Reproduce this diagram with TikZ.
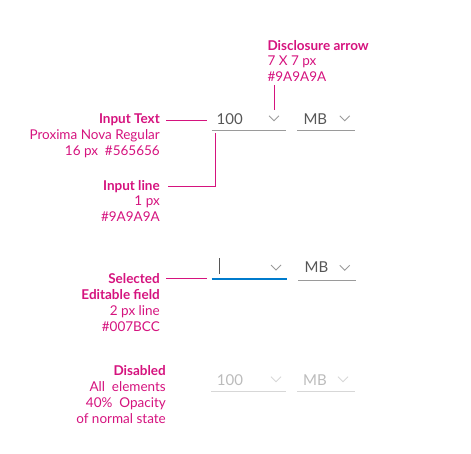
\documentclass[tikz,border=0pt]{standalone}
\usepackage{fontspec}
\setmainfont{Lato}
\usepackage{xcolor}
\usetikzlibrary{positioning}

\definecolor{notepink}{HTML}{D5137E}
\definecolor{valgrey}{HTML}{565656}
\definecolor{linegrey}{HTML}{9A9A9A}
\definecolor{selblue}{HTML}{007BCC}

\tikzset{
  note/.style={text=notepink, font=\fontsize{13.5}{15.8}\selectfont, inner sep=0pt},
  value/.style={text=valgrey, font=\fontsize{15}{18}\selectfont, inner sep=0pt, anchor=base west},
  callout/.style={notepink, line width=1pt},
  underline/.style={linegrey, line width=1pt},
  chevron/.style={linegrey, line width=0.9pt},
}
\newcommand{\chev}[1]{\draw[chevron] ([xshift=-5pt,yshift=2.5pt]#1) -- ([yshift=-2.5pt]#1) -- ([xshift=5pt,yshift=2.5pt]#1);}

\begin{document}
\begin{tikzpicture}[x=1pt,y=-1pt]
\useasboundingbox (0,0) rectangle (471,454);

\node[note, anchor=base west, align=left] (disc) at (267.3,81.7)
  {\textbf{Disclosure arrow}\\7 X 7 px\\\#9A9A9A};
\node[note, anchor=base east, align=right] (intext) at (160,155.5)
  {\textbf{Input Text}\\Proxima Nova Regular\\16 px\ \ \#565656};
\node[note, anchor=base east, align=right] (inline) at (160,221.7)
  {\textbf{Input line}\\1 px\\\#9A9A9A};
\node[note, anchor=base east, align=right] (sel) at (160,331)
  {\textbf{Selected}\\\textbf{Editable field}\\2 px line\\\#007BCC};
\node[note, anchor=base east, align=right] (disabled) at (166,423)
  {\textbf{Disabled}\\All\ \ elements\\40\%\ \ Opacity\\of normal state};

\node[value] (val1) at (216.5,124.5) {100};
\node[value] (unit1) at (303.3,124.5) {MB};
\coordinate (ch1) at (274,118.3);
\coordinate (ch1b) at (344.7,118.3);
\coordinate (u1) at (211.5,130.5);
\chev{ch1} \chev{ch1b}
\draw[underline] (u1) -- ++(74.5,0);
\draw[underline] (297,130.5) -- ++(58,0);

\coordinate (cursor) at (219,258.3);
\node[value] (unit2) at (304.5,272.7) {MB};
\coordinate (ch2) at (276,267.5);
\coordinate (ch2b) at (344.7,267.8);
\coordinate (u2) at (211.5,279.5);
\draw[valgrey, line width=0.8pt] (cursor) -- ++(0,15.7);
\chev{ch2} \chev{ch2b}
\draw[selblue, line width=2pt] (u2) -- ++(75,0);
\draw[underline] (298,280.5) -- ++(57.5,0);

\begin{scope}[opacity=0.4]
\node[value] (val3) at (216.7,385) {100};
\node[value] (unit3) at (303,385) {MB};
\coordinate (ch3) at (276,379.2);
\coordinate (ch3b) at (343,379.2);
\chev{ch3} \chev{ch3b}
\draw[underline] (211,391.5) -- ++(75,0);
\draw[underline] (297,391.5) -- ++(58,0);
\end{scope}

\draw[callout] ([yshift=-3.5pt]disc.south -| ch1) -- ([yshift=8pt]ch1);
\draw[callout] ([shift={(6pt,34.5pt)}]intext.base east) -- ([shift={(-9.5pt,3.5pt)}]val1.base west);
\draw[callout] ([shift={(3.5pt,-2.5pt)}]u1) |- ([shift={(8pt,35.5pt)}]inline.base east);
\draw[callout] ([shift={(6pt,52.7pt)}]sel.base east) coordinate (s) -- ([xshift=-4.5pt]s -| u2);

\end{tikzpicture}
\end{document}
